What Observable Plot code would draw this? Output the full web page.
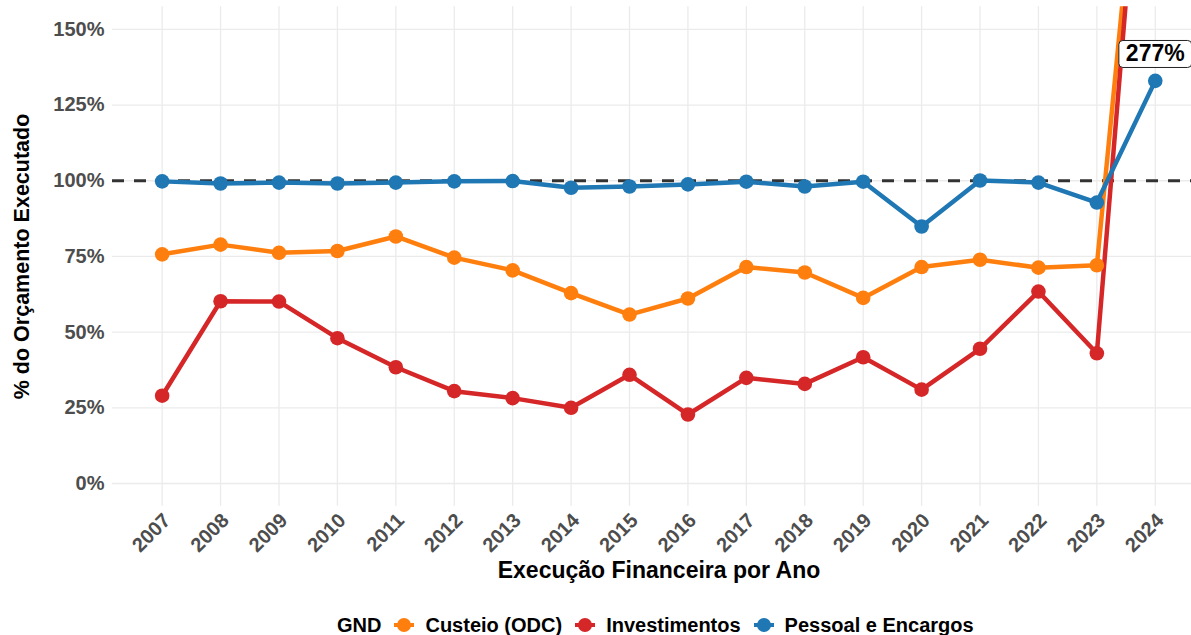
<!DOCTYPE html>
<html><head><meta charset="utf-8">
<script src="https://cdn.jsdelivr.net/npm/d3@7"></script>
<script src="https://cdn.jsdelivr.net/npm/@observablehq/plot@0.6"></script>
<style>
body{margin:0;background:#fff;font-family:"Liberation Sans",Arial,sans-serif;}
#legend{display:flex;align-items:center;height:20px;margin-top:15px;padding-left:337px;font-weight:bold;font-size:20px;color:#000;white-space:nowrap;line-height:20px}
#legend .key{width:20px;height:20px;display:block}
</style></head><body><div id="chart"></div><div id="legend"></div>
<script>
const years = [2007,2008,2009,2010,2011,2012,2013,2014,2015,2016,2017,2018,2019,2020,2021,2022,2023,2024];
const seriesNames = ["Custeio (ODC)", "Investimentos", "Pessoal e Encargos"];
const seriesColors = ["#ff7f0e", "#d62728", "#1f77b4"];
const custeio = [75.7,78.9,76.2,76.8,81.6,74.6,70.4,62.9,55.8,61.1,71.5,69.7,61.3,71.5,73.9,71.3,72.1,270];
const investimentos = [29.0,60.2,60.1,48.0,38.4,30.5,28.2,25.0,35.9,22.8,34.9,32.9,41.7,31.0,44.5,63.4,43.0,277];
const pessoal = [99.8,99.1,99.4,99.1,99.4,99.8,99.9,97.7,98.1,98.8,99.7,98.1,99.7,84.9,100.1,99.4,92.8,133.0];
const yTicks = [0,25,50,75,100,125,150];
const labelYear = 2024, labelY = 142, labelText = "277%";

const valuesBySeries = [custeio, investimentos, pessoal];
const data = [];
seriesNames.forEach((s, i) => years.forEach((y, j) => data.push({series: s, year: y, value: valuesBySeries[i][j]})));

const plot = Plot.plot({
  width: 1191,
  height: 600,
  marginTop: 6.2,
  marginBottom: 94.3,
  marginLeft: 112,
  marginRight: 0,
  style: {fontFamily: '"Liberation Sans", Arial, sans-serif', background: "#fff"},
  x: {domain: [2006.15, 2024.62], axis: null},
  y: {domain: [-7.5, 157.5], axis: null},
  color: {domain: seriesNames, range: seriesColors},
  marks: [
    Plot.gridX(years, {stroke: "#ebebeb", strokeOpacity: 1, strokeWidth: 1.3}),
    Plot.gridY(yTicks, {stroke: "#ebebeb", strokeOpacity: 1, strokeWidth: 1.3}),
    Plot.axisY({ticks: yTicks, tickFormat: d => d + "%", tickSize: 0, tickPadding: 8, fontSize: 20, fontWeight: "bold", color: "#4d4d4d", fill: "#4d4d4d", label: null}),
    Plot.axisX({ticks: years, tickFormat: d => String(d), tickSize: 0, tickPadding: 11, tickRotate: -45, textAnchor: "end", lineAnchor: "middle", dx: 5, fontSize: 20, fontWeight: "bold", color: "#4d4d4d", fill: "#4d4d4d", label: null}),
    Plot.text(["Execução Financeira por Ano"], {frameAnchor: "bottom", dy: 72, dx: 7, fontSize: 23, fontWeight: "bold", fill: "#000"}),
    Plot.text(["% do Orçamento Executado"], {frameAnchor: "left", textAnchor: "middle", dx: -90, rotate: -90, fontSize: 21.5, fontWeight: "bold", fill: "#000"}),
    Plot.ruleY([100], {stroke: "#333", strokeWidth: 2.8, strokeDasharray: "12,10"}),
    Plot.line(data, {x: "year", y: "value", z: "series", stroke: "series", strokeWidth: 4.5, clip: true}),
    Plot.dot(data, {x: "year", y: "value", fill: "series", r: 7.3, clip: true}),
    Plot.text([{year: labelYear, value: labelY, t: labelText}], {x: "year", y: "value", text: "t", fontSize: 23, fontWeight: "bold", fill: "#000", lineAnchor: "middle"})
  ]
});
document.getElementById("chart").appendChild(plot);

// label box behind the annotation text
const svgEl = plot.tagName.toLowerCase() === "svg" ? plot : plot.querySelector("svg");
d3.select(svgEl).selectAll("text").filter(function() { return this.textContent === labelText; }).each(function() {
  const b = this.getBBox();
  const r = d3.select(this.parentNode).insert("rect", () => this)
    .attr("x", b.x - 7).attr("y", b.y + 0.5).attr("width", b.width + 14).attr("height", b.height + 1)
    .attr("rx", 4).attr("fill", "#fff").attr("stroke", "#222").attr("stroke-width", 1);
  const tr = this.getAttribute("transform");
  if (tr) r.attr("transform", tr);
});

// legend
const legend = d3.select("#legend");
legend.append("span").text("GND").style("margin-right", "13px");
seriesNames.forEach((s, i) => {
  const k = legend.append("svg").attr("class", "key").attr("viewBox", "0 0 20 20");
  k.append("line").attr("x1", 0).attr("x2", 20).attr("y1", 10).attr("y2", 10).attr("stroke", seriesColors[i]).attr("stroke-width", 4);
  k.append("circle").attr("cx", 10).attr("cy", 10).attr("r", 7).attr("fill", seriesColors[i]);
  legend.append("span").text(s).style("margin-left", "11px").style("margin-right", i < seriesNames.length - 1 ? "13px" : "0");
});
</script>
</body></html>
